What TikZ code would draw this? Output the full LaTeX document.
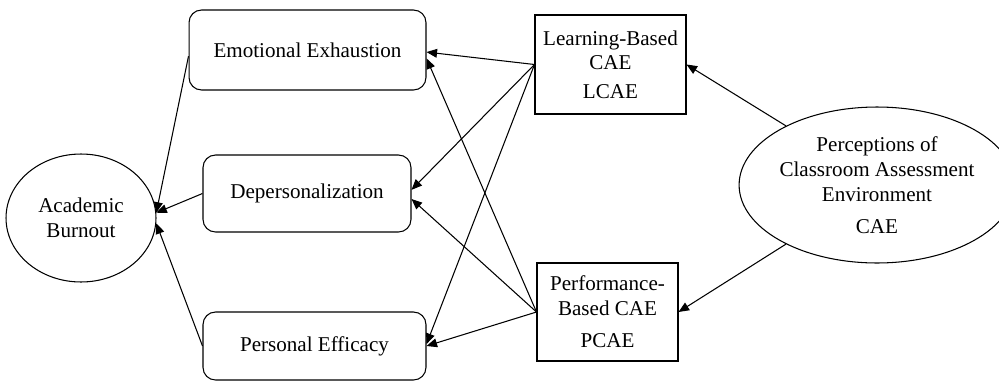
\documentclass[tikz,border=0pt]{standalone}
\usepackage{fontspec}
\setmainfont{Liberation Serif}
\usetikzlibrary{arrows.meta,shapes.geometric}

\begin{document}
\begin{tikzpicture}[x=0.02cm, y=-0.02cm,
	every node/.style={font=\fontsize{12}{14.2}\selectfont, align=center, inner sep=0pt},
	dim/.style={draw, rounded corners=0.25cm, line width=0.6pt},
	cae/.style={draw, line width=0.6pt},
	latent/.style={draw, ellipse, line width=0.6pt},
	path/.style={line width=0.6pt, -{Triangle[length=6pt,width=5pt]}}]
	\useasboundingbox (0,0) rectangle (999,382);
	% burnout dimensions
	\node[dim, minimum width=4.74cm, minimum height=1.6cm] (ee) at (307.5,50) {Emotional Exhaustion};
	\node[dim, minimum width=4.16cm, minimum height=1.54cm] (dp) at (307,193.5) {Depersonalization};
	\node[dim, minimum width=4.46cm, minimum height=1.36cm] (pe) at (314.5,346) {Personal Efficacy};
	\node[latent, minimum width=3cm, minimum height=2.56cm] (ab) at (81,218) {Academic\\Burnout};
	% assessment environment
	\node[cae, minimum width=3.02cm, minimum height=1.98cm] (lcae) at (610.5,64.5) {Learning-Based\\CAE\\[2pt]LCAE};
	\node[cae, minimum width=2.82cm, minimum height=1.96cm] (pcae) at (607.5,312) {Performance-\\Based CAE\\[4pt]PCAE};
	\node[latent, minimum width=4.88cm, minimum height=3.12cm] (env) at (877,185) {Perceptions of\\Classroom Assessment\\Environment\\[4pt]CAE};
	% paths
	\draw[path] (ee.183) -- (ab.4);
	\draw[path] (dp.west) -- (ab.4);
	\draw[path] (pe.west) -- (ab.-4);
	\foreach \s/\a/\b/\c in {lcae/-1/2/1, pcae/-4/-3/0} {
		\draw[path] (\s.west) -- (ee.\a);
		\draw[path] (\s.west) -- (dp.\b);
		\draw[path] (\s.west) -- (pe.\c);
	}
	\draw[path] (env.147) -- (lcae.east);
	\draw[path] (env.213) -- (pcae.east);
\end{tikzpicture}
\end{document}
